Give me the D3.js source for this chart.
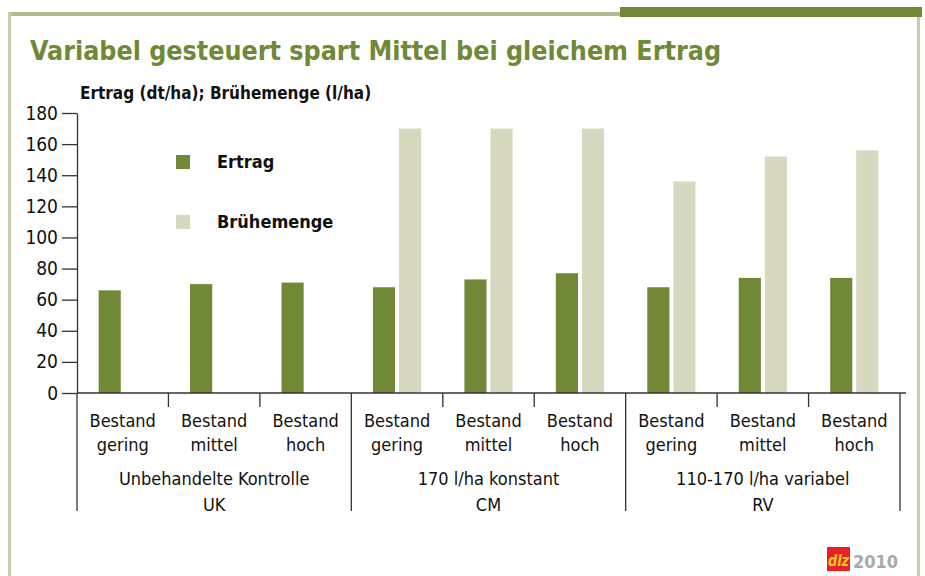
<!DOCTYPE html>
<html lang="de">
<head>
<meta charset="utf-8">
<title>Variabel gesteuert spart Mittel bei gleichem Ertrag</title>
<script src="https://cdn.jsdelivr.net/npm/d3@7/dist/d3.min.js"></script>
<style>
  body { margin: 0; background: #fff; }
  svg text { font-family: "Liberation Sans Narrow", "DejaVu Sans Condensed", "Roboto Condensed", sans-serif; }
  .title { font-size: 26.6px; font-weight: bold; fill: #6f8a36; }
  .subtitle { font-size: 17px; font-weight: bold; fill: #111; }
  .yaxis text { font-size: 19px; fill: #111; }
  .yaxis line, .yaxis path { stroke: #333; stroke-width: 1.3; }
  .catlabel, .grouplabel { font-size: 18px; fill: #111; }
  .legend text { font-size: 18px; font-weight: bold; fill: #111; }
</style>
</head>
<body>
<div id="chart"></div>
<script>
// data
var categories = ["UK-gering", "UK-mittel", "UK-hoch", "CM-gering", "CM-mittel", "CM-hoch", "RV-gering", "RV-mittel", "RV-hoch"];
var levelLabels = [["Bestand", "gering"], ["Bestand", "mittel"], ["Bestand", "hoch"]];
var groupLabels = [["Unbehandelte Kontrolle", "UK"], ["170 l/ha konstant", "CM"], ["110-170 l/ha variabel", "RV"]];
var seriesNames = ["Ertrag", "Brühemenge"];
var ertrag = [66, 70, 71, 68, 73, 77, 68, 74, 74];
var bruehe = [null, null, null, 170, 170, 170, 136, 152, 156];
var yTicks = [0, 20, 40, 60, 80, 100, 120, 140, 160, 180];

var w = 925, h = 576;
var colors = {"Ertrag": "#718937", "Brühemenge": "#d6d9c0"};

var svg = d3.select("#chart").append("svg")
  .attr("width", w).attr("height", h);

// frame
svg.append("rect").attr("x", 8).attr("y", 12).attr("width", 613).attr("height", 4).attr("fill", "#b3bb8d");
svg.append("rect").attr("x", 620).attr("y", 7).attr("width", 302).attr("height", 10).attr("fill", "#718937");
svg.append("rect").attr("x", 8).attr("y", 12).attr("width", 3).attr("height", 564).attr("fill", "#c8cea8");
svg.append("rect").attr("x", 917).attr("y", 17).attr("width", 3).attr("height", 559).attr("fill", "#c8cea8");

svg.append("text").attr("class", "title")
  .attr("x", 30).attr("y", 60)
  .text("Variabel gesteuert spart Mittel bei gleichem Ertrag");

svg.append("text").attr("class", "subtitle")
  .attr("x", 80).attr("y", 99)
  .text("Ertrag (dt/ha); Brühemenge (l/ha)");

var x = d3.scaleBand().domain(categories).range([77, 900]);
var xs = d3.scaleBand().domain(seriesNames).range([0, x.bandwidth()])
  .paddingInner(0.15).paddingOuter(0.83);
var y = d3.scaleLinear().domain([0, 180]).range([393, 113]);

// bars
var rows = categories.map(function(c, i) {
  return {cat: c, values: [{s: "Ertrag", v: ertrag[i]}, {s: "Brühemenge", v: bruehe[i]}]};
});

var cg = svg.selectAll("g.cat").data(rows).enter().append("g")
  .attr("class", "cat")
  .attr("transform", function(d) { return "translate(" + x(d.cat) + ",0)"; });

cg.selectAll("rect")
  .data(function(d) { return d.values.filter(function(e) { return e.v != null; }); })
  .enter().append("rect")
  .attr("x", function(d) { return xs(d.s); })
  .attr("width", xs.bandwidth())
  .attr("y", function(d) { return y(d.v); })
  .attr("height", function(d) { return y(0) - y(d.v); })
  .attr("fill", function(d) { return colors[d.s]; });

// y axis
var yAxis = d3.axisLeft(y).tickValues(yTicks).tickSize(15).tickSizeOuter(0).tickPadding(4);
svg.append("g").attr("class", "yaxis")
  .attr("transform", "translate(77,0)")
  .call(yAxis);

// x baseline and category dividers
var axisCol = "#333";
svg.append("line")
  .attr("x1", 77).attr("x2", x.range()[1] + 6)
  .attr("y1", y(0)).attr("y2", y(0))
  .attr("stroke", axisCol).attr("stroke-width", 1.5);

var bounds = d3.range(categories.length + 1);
svg.selectAll("line.div").data(bounds).enter().append("line")
  .attr("class", "div")
  .attr("x1", function(i) { return 77 + i * x.step(); })
  .attr("x2", function(i) { return 77 + i * x.step(); })
  .attr("y1", y(0))
  .attr("y2", function(i) { return i % 3 === 0 ? 511 : 407; })
  .attr("stroke", axisCol).attr("stroke-width", 1.3);

// category labels
categories.forEach(function(c, i) {
  var lab = levelLabels[i % 3];
  var t = svg.append("text").attr("class", "catlabel")
    .attr("text-anchor", "middle")
    .attr("x", x(c) + x.bandwidth() / 2).attr("y", 427);
  t.append("tspan").attr("x", x(c) + x.bandwidth() / 2).text(lab[0]);
  t.append("tspan").attr("x", x(c) + x.bandwidth() / 2).attr("dy", 24).text(lab[1]);
});

groupLabels.forEach(function(g, i) {
  var cx = x(categories[i * 3 + 1]) + x.bandwidth() / 2;
  var t = svg.append("text").attr("class", "grouplabel")
    .attr("text-anchor", "middle").attr("x", cx).attr("y", 485);
  t.append("tspan").attr("x", cx).text(g[0]);
  t.append("tspan").attr("x", cx).attr("dy", 26).text(g[1]);
});

// legend
var legend = svg.append("g").attr("class", "legend").attr("transform", "translate(176,155)");
var li = legend.selectAll("g").data(seriesNames).enter().append("g")
  .attr("transform", function(d, i) { return "translate(0," + i * 60 + ")"; });
li.append("rect").attr("width", 14).attr("height", 14)
  .attr("fill", function(d) { return colors[d]; });
li.append("text").attr("x", 41).attr("y", 13).text(function(d) { return d; });

// logo
var logo = svg.append("g").attr("transform", "translate(827,547)");
logo.append("rect").attr("width", 23).attr("height", 24).attr("fill", "#e8202a");
logo.append("text").attr("x", 1).attr("y", 19)
  .style("font-size", "15px").style("font-weight", "bold").style("font-style", "italic")
  .attr("textLength", 21).attr("lengthAdjust", "spacingAndGlyphs")
  .attr("fill", "#f7d117").text("dlz");
logo.append("text").attr("x", 26).attr("y", 21)
  .style("font-size", "18px").style("font-weight", "bold")
  .attr("fill", "#a9a9a9").text("2010");
</script>
</body>
</html>
